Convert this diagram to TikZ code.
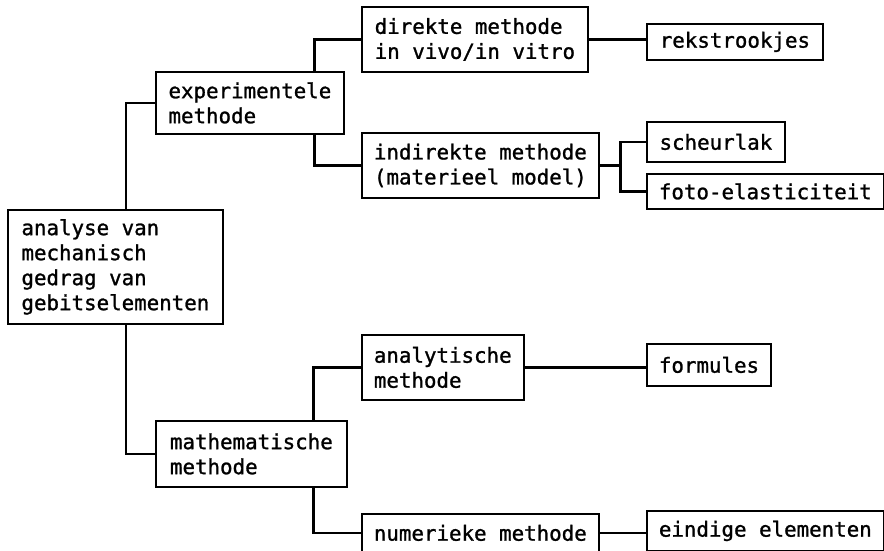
\documentclass[tikz,border=0pt]{standalone}
\usepackage{fontspec}
\setmonofont[BoldFont=DejaVu Sans Mono, BoldFeatures={FakeBold=1.2}]{DejaVu Sans Mono}

\begin{document}
\begin{tikzpicture}[x=1pt, y=-1pt,
  vak/.style={draw, line width=1.8pt, anchor=north west, align=left,
    inner xsep=12pt, inner ysep=0pt, font=\ttfamily\bfseries\fontsize{20.8}{25}\selectfont},
  lijn/.style={line width=2.8pt}]
\useasboundingbox (0,0) rectangle (884,550);
% Kolom 1
\node[vak, minimum width=215pt, minimum height=114pt] (analyse) at (7,209)
  {analyse van\\mechanisch\\gedrag van\\gebitselementen};
% Kolom 2
\node[vak, minimum width=188pt, minimum height=62pt] (exp) at (155,71)
  {experimentele\\methode};
\node[vak, minimum width=191pt, minimum height=66pt] (math) at (155,420)
  {mathematische\\methode};
% Kolom 3
\node[vak, minimum width=226pt, minimum height=65pt] (direkt) at (361,6)
  {direkte methode\\in vivo/in vitro};
\node[vak, minimum width=237pt, minimum height=65pt] (indirekt) at (361,132)
  {indirekte methode\\(materieel model)};
\node[vak, minimum width=161pt, minimum height=65pt] (analyt) at (361,334)
  {analytische\\methode};
\node[vak, minimum width=233pt, minimum height=38pt] (numer) at (361,513)
  {numerieke methode};
% Kolom 4
\node[vak, minimum width=176pt, minimum height=36pt] (rek) at (646,23) {rekstrookjes};
\node[vak, minimum width=138pt, minimum height=40pt] (scheur) at (646,121) {scheurlak};
\node[vak, minimum width=234pt, minimum height=35pt] (foto) at (646,173) {foto-elasticiteit};
\node[vak, minimum width=122pt, minimum height=42pt] (form) at (646,343) {formules};
\node[vak, minimum width=234pt, minimum height=40pt] (eindig) at (646,510) {eindige elementen};
% Verbindingen
\draw[lijn] ([xshift=10.5pt]analyse.north) |- (exp.west);
\draw[lijn] ([xshift=10.5pt]analyse.south) |- (math.west);
\draw[lijn] ([xshift=-30pt]exp.north east) |- (direkt.west);
\draw[lijn] ([xshift=-30pt]exp.south east) |- (indirekt.west);
\draw[lijn] (direkt.east) -- (direkt.east -| rek.west);
\coordinate (splits) at ([xshift=21pt]indirekt.east);
\draw[lijn] (indirekt.east) -- (splits);
\draw[lijn] (scheur.west) -| (splits) |- (foto.west);
\draw[lijn] ([xshift=-34pt]math.north east) |- (analyt.west);
\draw[lijn] ([xshift=-34pt]math.south east) |- (numer.west);
\draw[lijn] (analyt.east) -- (analyt.east -| form.west);
\draw[lijn] (numer.east) -- (numer.east -| eindig.west);
\end{tikzpicture}
\end{document}
